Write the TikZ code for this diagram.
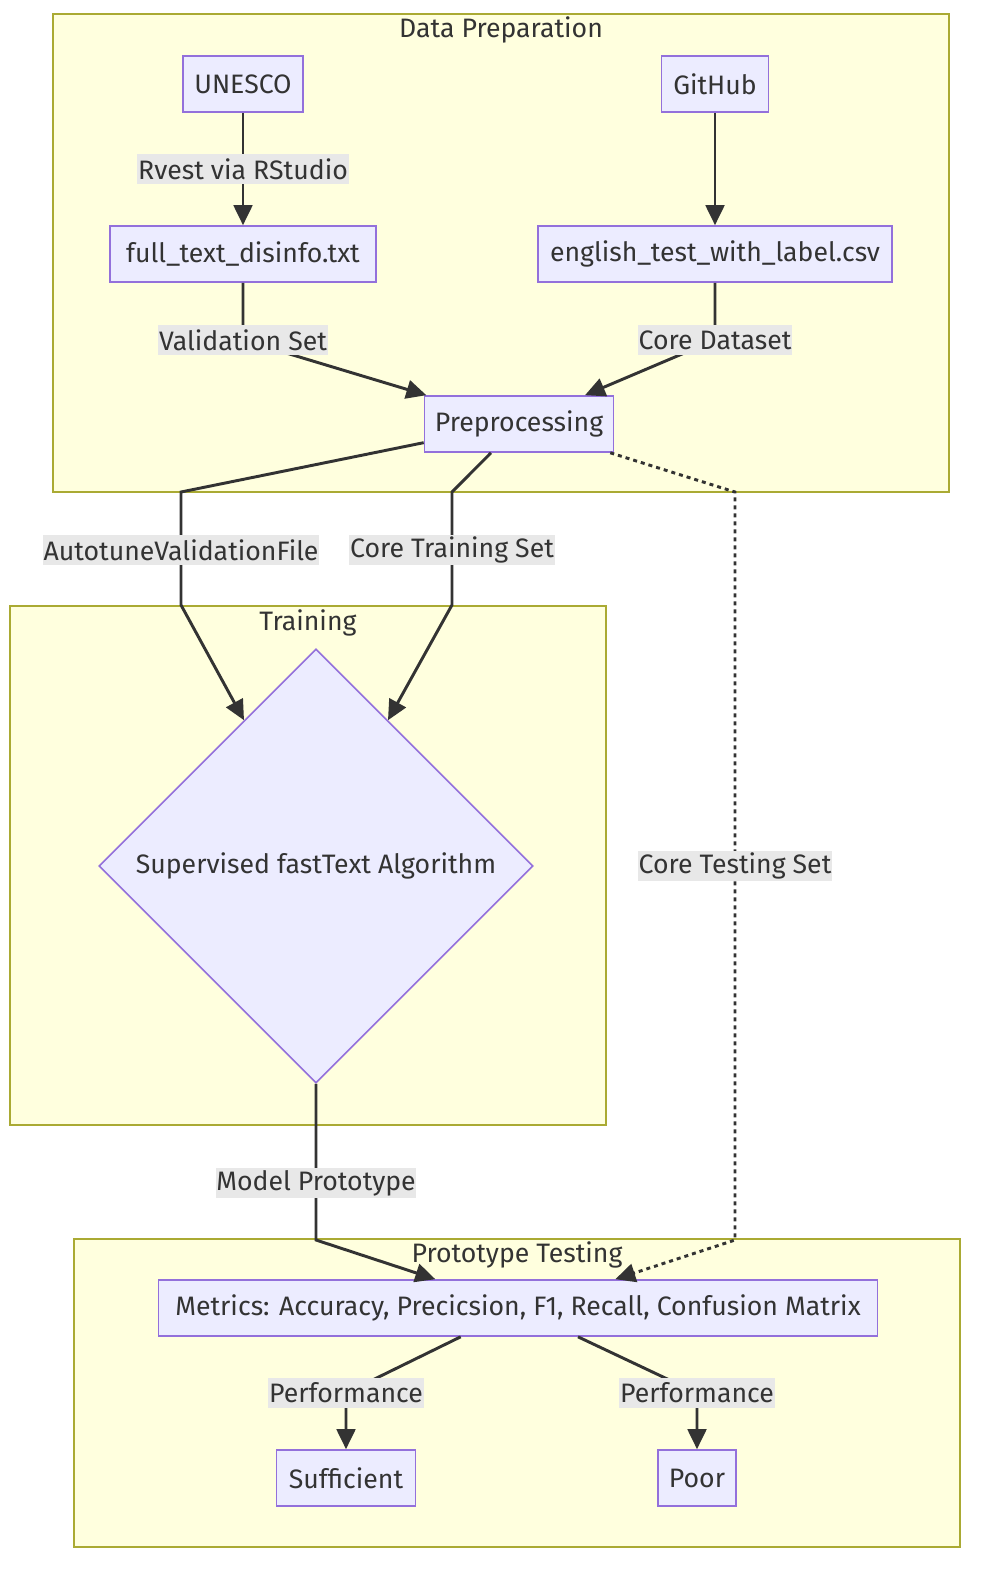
\documentclass[tikz,border=0pt]{standalone}
\usepackage{fontspec}
\setmainfont{Fira Sans}
\usepackage{tikz}
\usetikzlibrary{arrows.meta, shapes.geometric}
\definecolor{clusterfill}{HTML}{FFFFDE}
\definecolor{clusterline}{HTML}{AAAA33}
\definecolor{nodefill}{HTML}{ECECFF}
\definecolor{nodeline}{HTML}{9370DB}
\definecolor{edgecol}{HTML}{333333}
\definecolor{labelfill}{HTML}{E8E8E8}

\begin{document}
\begin{tikzpicture}[x=0.75pt, y=-0.75pt,
        every node/.style={font=\fontsize{20}{24}\selectfont, text=edgecol},
        cluster/.style={draw=clusterline, fill=clusterfill, line width=1.2pt},
        box/.style={draw=nodeline, fill=nodefill, line width=1.2pt, minimum height=42pt, inner sep=0pt},
        decision/.style={diamond, aspect=1, draw=nodeline, fill=nodefill, line width=1.2pt, minimum width=325.5pt, minimum height=325.5pt, inner sep=0pt},
        elabel/.style={fill=labelfill, inner xsep=0.5pt, inner ysep=0pt, minimum height=22.5pt},
        flow/.style={draw=edgecol, line width=2.2pt, -{Triangle[length=15pt, width=14pt]}},
        testflow/.style={flow, dash pattern=on 3pt off 3pt}]
        \useasboundingbox (0,0) rectangle (984,1572);

        \draw [cluster] (53,14) rectangle (949,492);
        \node (prepTitle) at (501,30) {Data Preparation};
        \draw [cluster] (10,606) rectangle (606,1125);
        \node (trainTitle) at (308,623) {Training};
        \draw [cluster] (74,1239) rectangle (960,1547);
        \node (testTitle) at (517,1255) {Prototype Testing};

        \node [box, minimum width=90pt] (unesco) at (243,84) {UNESCO};
        \node [box, minimum width=80.25pt] (github) at (715,84) {GitHub};
        \node [box, minimum width=199.5pt] (fulltext) at (243,254) {full\_text\_disinfo.txt};
        \node [box, minimum width=265.5pt] (english) at (715,254) {english\_test\_with\_label.csv};
        \node [box, minimum width=141.75pt] (prep) at (519,424) {Preprocessing};
        \node [decision] (fasttext) at (316,866) {Supervised fastText Algorithm};
        \node [box, minimum width=539.25pt] (metrics) at (518,1308) {Metrics: Accuracy, Precicsion, F1, Recall, Confusion Matrix};
        \node [box, minimum width=104.25pt] (sufficient) at (346,1478) {Sufficient};
        \node [box, minimum width=58.5pt] (poor) at (697,1478) {Poor};

        \draw [flow] (unesco) -- node [elabel] {Rvest via RStudio} (fulltext);
        \draw [flow] (github) -- (english);
        \draw [flow] (fulltext) -- (243,340) node [elabel] {Validation Set} -- ([xshift=2pt]prep.north west);
        \draw [flow] (english) -- (715,340) node [elabel] {Core Dataset} -- ([xshift=49.5pt]prep.north);

        \draw [flow] ([yshift=-14pt]prep.west) -- (181,492) -- (181,550) node [elabel] {AutotuneValidationFile} -- (181,605) -- ([shift={(-54pt,-54pt)}]fasttext.north);
        \draw [flow] ([xshift=-21pt]prep.south) -- (452,492) -- (452,550) node [elabel] {Core Training Set} -- (452,605) -- ([shift={(54pt,-54pt)}]fasttext.north);
        \draw [testflow] ([xshift=-3pt]prep.south east) -- (735,492) -- (735,866) node [elabel] {Core Testing Set} -- (735,1240) -- ([xshift=73pt]metrics.north);

        \draw [flow] (fasttext.south) -- (316,1183) node [elabel] {Model Prototype} -- (316,1240) -- ([xshift=-62pt]metrics.north);
        \draw [flow] ([xshift=-43pt]metrics.south) -- (346,1393) node [elabel] {Performance} -- (sufficient);
        \draw [flow] ([xshift=45pt]metrics.south) -- (697,1393) node [elabel] {Performance} -- (poor);
    \end{tikzpicture}
\end{document}
